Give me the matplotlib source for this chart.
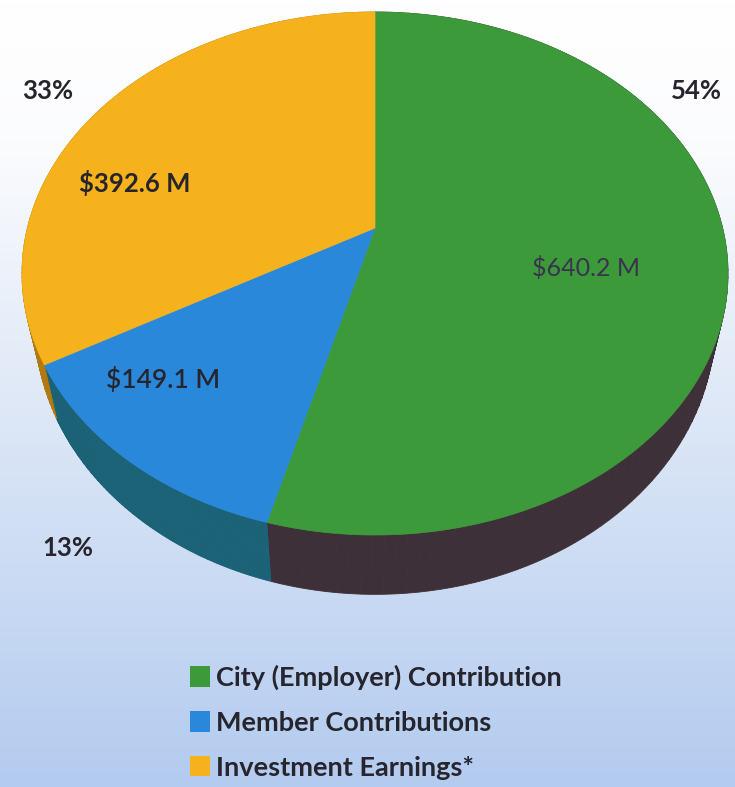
import numpy as np
import matplotlib
matplotlib.use("Agg")
import matplotlib.pyplot as plt
from matplotlib.patches import Polygon, Patch
from matplotlib.colors import LinearSegmentedColormap, to_rgb

# ---- data ----
categories = ["City (Employer) Contribution", "Member Contributions", "Investment Earnings*"]
values = [640.2, 149.1, 392.6]          # $ millions
top_colors = ["#3c9a3a", "#2a88da", "#f6b21c"]
side_colors = ["#3d3038", "#1b6277", "#b07a10"]
side_edge_colors = ["#2f6a2c", "#1b6277", "#b07a10"]

W, H = 735, 787
fig = plt.figure(figsize=(W / 100, H / 100), dpi=100)
ax = fig.add_axes([0, 0, 1, 1])
ax.set_xlim(0, W)
ax.set_ylim(H, 0)
ax.axis("off")

# background gradient
grad = np.linspace(0, 1, 256).reshape(-1, 1)
cmap = LinearSegmentedColormap.from_list(
    "bg", [(0, "#ffffff"), (0.18, "#fbfcfe"), (0.55, "#dbe6f6"), (1.0, "#b3cbef")])
ax.imshow(grad, extent=[0, W, H, 0], aspect="auto", cmap=cmap, zorder=0)

# perspective pie geometry
cx, cy = 375, 228
A, B, k = 347.6, 253.6, 0.174
thick = 49
shrink = 0.963


def proj(theta):
    u, v = np.cos(theta), np.sin(theta)
    w = 1 + k * v
    return cx + A * u / w, cy - B * v / w, w


total = sum(values)
fracs = [v / total for v in values]
start = np.pi / 2
bounds = []
for f in fracs:
    end = start - f * 2 * np.pi
    bounds.append((start, end))
    start = end

# sides (drawn in short segments so the colour can shade along the rim)
for (a0, a1), sc, ec in zip(bounds, side_colors, side_edge_colors):
    n = 120
    t = np.linspace(a0, a1, n + 1)
    c_main, c_edge = np.array(to_rgb(sc)), np.array(to_rgb(ec))
    for i in range(n):
        tt = np.linspace(t[i], t[i + 1], 4)
        x, y, w = proj(tt)
        xb = cx + (x - cx) * shrink
        yb = y + thick / w
        d = abs(t[i] - a0)
        m = np.clip(1 - d / 0.25, 0, 1)
        col = c_main * (1 - m) + c_edge * m
        pts = np.column_stack([np.concatenate([x, xb[::-1]]), np.concatenate([y, yb[::-1]])])
        ax.add_patch(Polygon(pts, closed=True, facecolor=col, edgecolor=col,
                             linewidth=0.6, zorder=2))

# tops
for (a0, a1), tc in zip(bounds, top_colors):
    t = np.linspace(a0, a1, 300)
    x, y, w = proj(t)
    pts = np.column_stack([np.concatenate([[cx], x]), np.concatenate([[cy], y])])
    ax.add_patch(Polygon(pts, closed=True, facecolor=tc, edgecolor=tc, linewidth=0.5, zorder=3))

txt = "#26252e"
font = "Lato"
pcts = [f"{round(v / total * 100)}%" for v in values]
pct_pos = [(696, 91), (68, 548), (48, 91)]
for p, (px, py) in zip(pcts, pct_pos):
    ax.text(px, py, p, ha="center", va="center", fontsize=18.5, fontweight="bold",
            color=txt, family=font, zorder=5)

val_pos = [(586, 268), (163, 380), (135, 183)]
val_weight = ["normal", "semibold", "bold"]
val_size = [18, 19, 18.5]
val_color = ["#3a3350", txt, txt]
for v, (px, py), fw, fs, vc in zip(values, val_pos, val_weight, val_size, val_color):
    ax.text(px, py, f"${v:.1f} M", ha="center", va="center", fontsize=fs, fontweight=fw,
            color=vc, family=font, zorder=5)

handles = [Patch(facecolor=c, edgecolor="none") for c in top_colors]
leg = ax.legend(handles, categories, loc="upper left", bbox_to_anchor=(190 / W, 1 - 665 / H),
                frameon=False, handlelength=0.75, handleheight=0.8, handletextpad=0.22,
                labelspacing=0.76, prop={"family": font, "weight": "bold", "size": 19.5},
                labelcolor=txt, borderaxespad=0, borderpad=0)
leg.set_zorder(6)

fig.savefig("out.png", dpi=100)
